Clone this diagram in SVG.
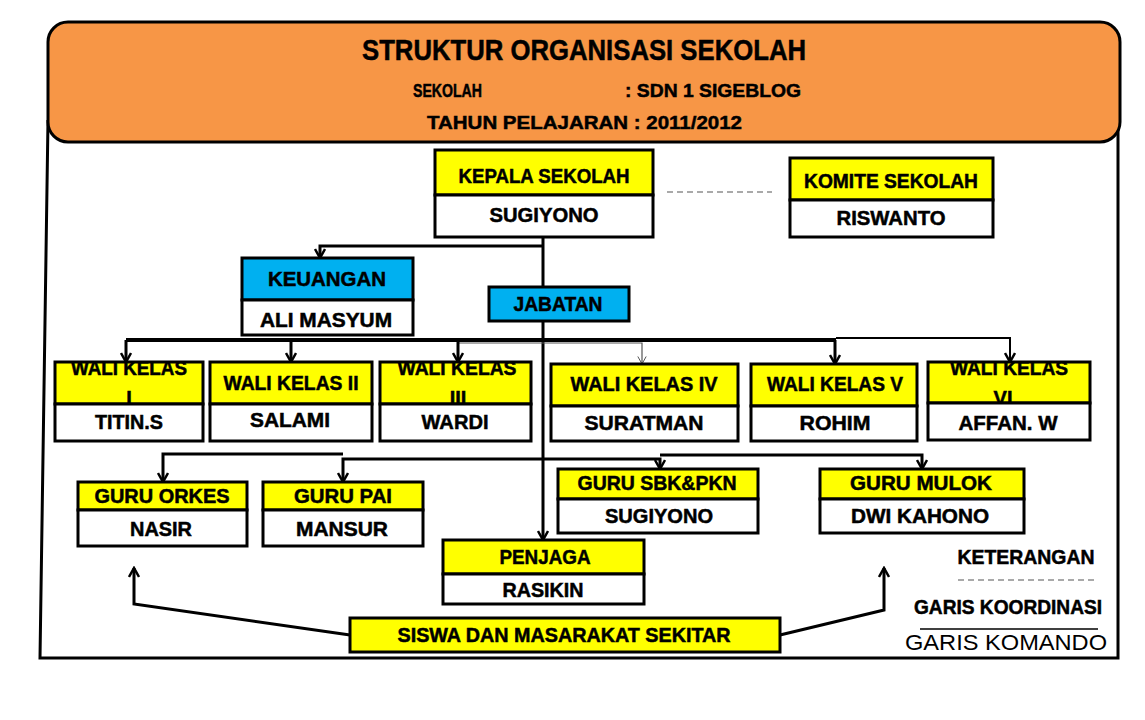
<svg xmlns="http://www.w3.org/2000/svg" width="1145" height="720" viewBox="0 0 1145 720">
<style>
.y{fill:#FFFF00;stroke:#000;stroke-width:3}
.w{fill:#FFFFFF;stroke:#000;stroke-width:3}
.b{fill:#00B0F0;stroke:#000;stroke-width:3}
.t{font-family:"Liberation Sans",Arial,sans-serif;font-weight:bold;font-size:20px;text-anchor:middle;fill:#000;stroke:#000;stroke-width:0.5}
.h{font-family:"Liberation Sans",Arial,sans-serif;font-weight:bold;fill:#000;stroke:#000;stroke-width:0.5}
.c{fill:none;stroke:#000;stroke-width:3}
.a{marker-end:url(#arr)}
</style>
<defs>
<marker id="arr" markerUnits="userSpaceOnUse" viewBox="0 0 12 12" refX="10" refY="6" markerWidth="12" markerHeight="12" orient="auto">
<path d="M1,1 L10,6 L1,11" fill="none" stroke="#000" stroke-width="2.5"/>
</marker>
<marker id="arrg" markerUnits="userSpaceOnUse" viewBox="0 0 12 12" refX="10" refY="6" markerWidth="10" markerHeight="10" orient="auto">
<path d="M1,1 L10,6 L1,11" fill="none" stroke="#555" stroke-width="1.2"/>
</marker>
<clipPath id="c1"><rect x="55" y="362" width="148" height="42"/></clipPath>
<clipPath id="c3"><rect x="380" y="362" width="151" height="42"/></clipPath>
<clipPath id="c6"><rect x="928" y="362" width="162" height="41"/></clipPath>
</defs>

<g id="frame">
<path d="M48,120 L40,658 L1118,658 L1118,40" fill="none" stroke="#000" stroke-width="3"/>
</g>

<g id="header">
<rect x="48" y="22" width="1072" height="120" rx="20" ry="20" fill="#F79646" stroke="#000" stroke-width="3"/>
<text class="h" x="584" y="60" font-size="29" text-anchor="middle" textLength="444" lengthAdjust="spacingAndGlyphs">STRUKTUR ORGANISASI SEKOLAH</text>
<text class="h" x="413" y="97" font-size="19" textLength="69" lengthAdjust="spacingAndGlyphs">SEKOLAH</text>
<text class="h" x="625" y="97" font-size="19" textLength="176" lengthAdjust="spacingAndGlyphs">: SDN 1 SIGEBLOG</text>
<text class="h" x="427" y="129" font-size="19" textLength="315" lengthAdjust="spacingAndGlyphs">TAHUN PELAJARAN : 2011/2012</text>
</g>

<g id="connectors">
<line x1="543" y1="237" x2="543" y2="540" class="c a"/>
<polyline points="543,246 320,246 320,258" class="c a"/>
<line x1="667" y1="192" x2="772" y2="192" stroke="#555" stroke-width="1.2" stroke-dasharray="6,4"/>
<line x1="126" y1="340" x2="836" y2="340" stroke="#000" stroke-width="4"/>
<polyline points="836,338 1010,338 1010,362" class="a" fill="none" stroke="#000" stroke-width="2"/>
<polyline points="459,343 642,343 642,364" fill="none" stroke="#555" stroke-width="1.2" marker-end="url(#arrg)"/>
<line x1="126" y1="340" x2="126" y2="362" class="c a"/>
<line x1="291" y1="340" x2="291" y2="362" class="c a"/>
<line x1="458" y1="340" x2="458" y2="362" class="c a"/>
<line x1="835" y1="340" x2="835" y2="364" class="c a"/>
<polyline points="343,454 163,454 163,482" class="c a"/>
<polyline points="543,459 343,459 343,482" class="c a"/>
<polyline points="543,459 660,459 660,469" class="c a"/>
<polyline points="660,455 922,455 922,469" class="c a"/>
<polyline points="350,635 134,604 134,568" class="c a"/>
<polyline points="780,635 884,610 884,568" class="c a"/>
</g>

<g id="kepala">
<rect x="435" y="150" width="218" height="45" class="y"/>
<rect x="435" y="195" width="218" height="42" class="w"/>
<text class="t" x="544" y="183" textLength="171" lengthAdjust="spacingAndGlyphs">KEPALA SEKOLAH</text>
<text class="t" x="544" y="222" textLength="109" lengthAdjust="spacingAndGlyphs">SUGIYONO</text>
</g>

<g id="komite">
<rect x="790" y="158" width="203" height="42" class="y"/>
<rect x="790" y="200" width="203" height="37" class="w"/>
<text class="t" x="891" y="188" textLength="174" lengthAdjust="spacingAndGlyphs">KOMITE SEKOLAH</text>
<text class="t" x="891" y="225" textLength="109" lengthAdjust="spacingAndGlyphs">RISWANTO</text>
</g>

<g id="keuangan">
<rect x="242" y="258" width="171" height="42" class="b"/>
<rect x="242" y="300" width="171" height="35" class="w"/>
<text class="t" x="327" y="286" textLength="118" lengthAdjust="spacingAndGlyphs">KEUANGAN</text>
<text class="t" x="326" y="327" textLength="132" lengthAdjust="spacingAndGlyphs">ALI MASYUM</text>
</g>

<g id="jabatan">
<rect x="489" y="287" width="140" height="34" class="b"/>
<text class="t" x="558" y="311" textLength="89" lengthAdjust="spacingAndGlyphs">JABATAN</text>
</g>

<g id="wali1">
<rect x="55" y="362" width="148" height="42" class="y"/>
<rect x="55" y="404" width="148" height="37" class="w"/>
<g clip-path="url(#c1)">
<text class="t" x="129" y="375" textLength="116" lengthAdjust="spacingAndGlyphs">WALI KELAS</text>
<text class="t" x="129" y="405">I</text>
</g>
<text class="t" x="129" y="429" textLength="68" lengthAdjust="spacingAndGlyphs">TITIN.S</text>
</g>

<g id="wali2">
<rect x="210" y="362" width="162" height="42" class="y"/>
<rect x="210" y="404" width="162" height="37" class="w"/>
<text class="t" x="291" y="390" textLength="135" lengthAdjust="spacingAndGlyphs">WALI KELAS II</text>
<text class="t" x="290" y="427" textLength="80" lengthAdjust="spacingAndGlyphs">SALAMI</text>
</g>

<g id="wali3">
<rect x="380" y="362" width="151" height="42" class="y"/>
<rect x="380" y="404" width="151" height="37" class="w"/>
<g clip-path="url(#c3)">
<text class="t" x="457" y="375" textLength="119" lengthAdjust="spacingAndGlyphs">WALI KELAS</text>
<text class="t" x="458" y="405">III</text>
</g>
<text class="t" x="455" y="429" textLength="67" lengthAdjust="spacingAndGlyphs">WARDI</text>
</g>

<g id="wali4">
<rect x="551" y="364" width="187" height="42" class="y"/>
<rect x="551" y="406" width="187" height="35" class="w"/>
<text class="t" x="644" y="391" textLength="147" lengthAdjust="spacingAndGlyphs">WALI KELAS IV</text>
<text class="t" x="644" y="430" textLength="119" lengthAdjust="spacingAndGlyphs">SURATMAN</text>
</g>

<g id="wali5">
<rect x="751" y="364" width="166" height="42" class="y"/>
<rect x="751" y="406" width="166" height="35" class="w"/>
<text class="t" x="835" y="391" textLength="136" lengthAdjust="spacingAndGlyphs">WALI KELAS V</text>
<text class="t" x="835" y="430" textLength="71" lengthAdjust="spacingAndGlyphs">ROHIM</text>
</g>

<g id="wali6">
<rect x="928" y="362" width="162" height="41" class="y"/>
<rect x="928" y="403" width="162" height="37" class="w"/>
<g clip-path="url(#c6)">
<text class="t" x="1009" y="375" textLength="118" lengthAdjust="spacingAndGlyphs">WALI KELAS</text>
<text class="t" x="1003" y="405">VI</text>
</g>
<text class="t" x="1008" y="430" textLength="99" lengthAdjust="spacingAndGlyphs">AFFAN. W</text>
</g>

<g id="orkes">
<rect x="78" y="482" width="169" height="28" class="y"/>
<rect x="78" y="510" width="169" height="36" class="w"/>
<text class="t" x="162" y="503" textLength="135" lengthAdjust="spacingAndGlyphs">GURU  ORKES</text>
<text class="t" x="161" y="536" textLength="62" lengthAdjust="spacingAndGlyphs">NASIR</text>
</g>

<g id="pai">
<rect x="263" y="482" width="160" height="28" class="y"/>
<rect x="263" y="510" width="160" height="36" class="w"/>
<text class="t" x="343" y="503" textLength="98" lengthAdjust="spacingAndGlyphs">GURU PAI</text>
<text class="t" x="342" y="536" textLength="92" lengthAdjust="spacingAndGlyphs">MANSUR</text>
</g>

<g id="sbk">
<rect x="558" y="469" width="200" height="30" class="y"/>
<rect x="558" y="499" width="200" height="34" class="w"/>
<text class="t" x="657" y="490" textLength="159" lengthAdjust="spacingAndGlyphs">GURU SBK&amp;PKN</text>
<text class="t" x="659" y="523" textLength="108" lengthAdjust="spacingAndGlyphs">SUGIYONO</text>
</g>

<g id="mulok">
<rect x="820" y="469" width="204" height="30" class="y"/>
<rect x="820" y="499" width="204" height="34" class="w"/>
<text class="t" x="921" y="490" textLength="142" lengthAdjust="spacingAndGlyphs">GURU MULOK</text>
<text class="t" x="920" y="523" textLength="138" lengthAdjust="spacingAndGlyphs">DWI KAHONO</text>
</g>

<g id="penjaga">
<rect x="443" y="540" width="201" height="34" class="y"/>
<rect x="443" y="574" width="201" height="30" class="w"/>
<text class="t" x="545" y="564" textLength="91" lengthAdjust="spacingAndGlyphs">PENJAGA</text>
<text class="t" x="543" y="597" textLength="81" lengthAdjust="spacingAndGlyphs">RASIKIN</text>
</g>

<g id="siswa">
<rect x="350" y="618" width="430" height="34" class="y"/>
<text class="t" x="564" y="642" textLength="333" lengthAdjust="spacingAndGlyphs">SISWA DAN MASARAKAT SEKITAR</text>
</g>

<g id="legend">
<text class="t" x="1026" y="564" textLength="137" lengthAdjust="spacingAndGlyphs">KETERANGAN</text>
<line x1="958" y1="580" x2="1097" y2="580" stroke="#555" stroke-width="1.2" stroke-dasharray="6,4"/>
<text class="t" x="1008" y="614" textLength="188" lengthAdjust="spacingAndGlyphs">GARIS KOORDINASI</text>
<line x1="920" y1="629" x2="1098" y2="629" stroke="#000" stroke-width="1.5"/>
<text x="1006" y="650" font-family="Liberation Sans,Arial,sans-serif" font-size="22" text-anchor="middle" textLength="202" lengthAdjust="spacingAndGlyphs">GARIS KOMANDO</text>
</g>
</svg>
